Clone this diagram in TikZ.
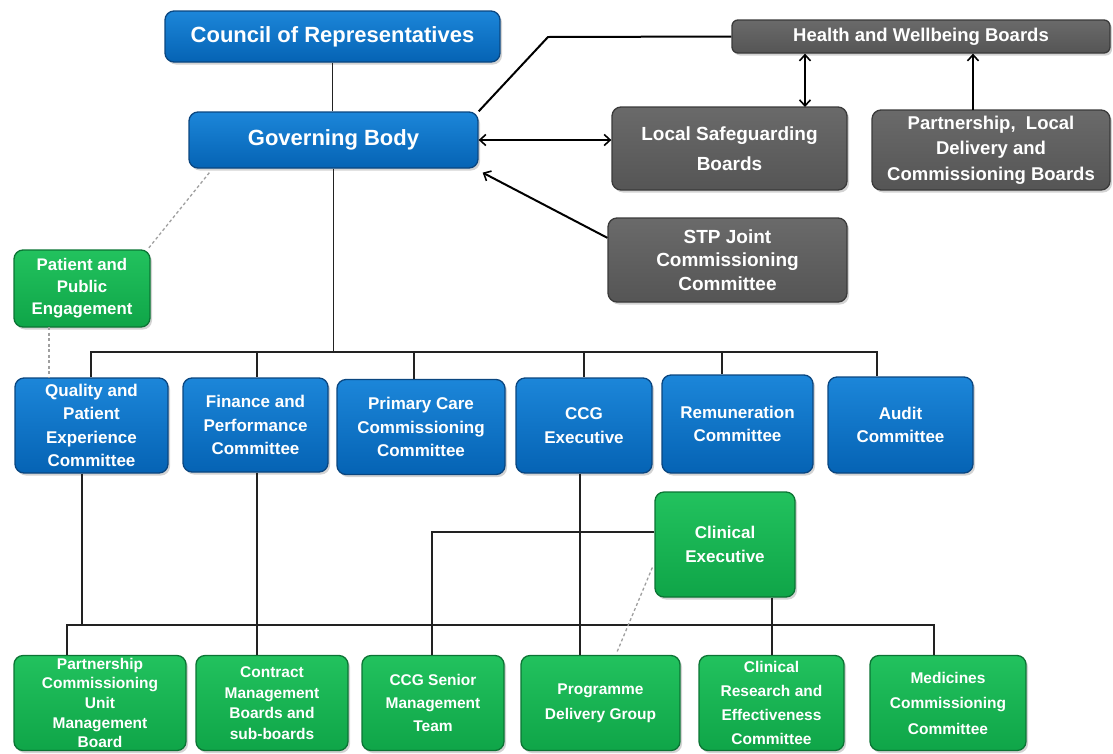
\documentclass[tikz,border=0pt]{standalone}
\usepackage{fontspec}
\setmainfont{Liberation Sans}
\usetikzlibrary{arrows.meta,shadows,calc}
\definecolor{bluetop}{HTML}{1C86D9}
\definecolor{bluebot}{HTML}{0563B4}
\definecolor{blueedge}{HTML}{0A4680}
\definecolor{graytop}{HTML}{6A6A6A}
\definecolor{graybot}{HTML}{555555}
\definecolor{grayedge}{HTML}{3A3A3A}
\definecolor{greentop}{HTML}{22C25E}
\definecolor{greenbot}{HTML}{0FA548}
\definecolor{greenedge}{HTML}{0B7434}
\definecolor{linec}{HTML}{222222}
\newcommand{\fs}[2]{\bfseries\fontsize{#1}{#2}\selectfont}
\tikzset{
  box/.style={rounded corners=9pt, draw, line width=1.3pt, text=white, align=center,
    inner sep=1pt, font=\bfseries,
    drop shadow={opacity=0.35, shadow xshift=2pt, shadow yshift=-2.5pt}},
  bluebox/.style={box, draw=blueedge, top color=bluetop, bottom color=bluebot},
  graybox/.style={box, draw=grayedge, top color=graytop, bottom color=graybot},
  greenbox/.style={box, draw=greenedge, top color=greentop, bottom color=greenbot},
  tree/.style={draw=linec, line width=1.1pt},
  rel/.style={draw=black, line width=2pt},
  arr/.style={rel, -{Straight Barb[length=6pt,width=11pt,line width=1.6pt]}},
  darr/.style={rel, {Straight Barb[length=6pt,width=11pt,line width=1.6pt]}-{Straight Barb[length=6pt,width=11pt,line width=1.6pt]}},
  dots/.style={draw=gray!75, line width=1.3pt, dash pattern=on 3pt off 2.5pt},
  r2/.style={font=\fs{17}{23.5}},
}
\begin{document}
\begin{tikzpicture}[x=1pt,y=1pt]
\useasboundingbox (0,0) rectangle (1113,-753);
% top
\node[bluebox, minimum width=335, minimum height=51, font=\fs{22}{26}] (council) at (332.5,-36.5) {Council of Representatives};
\node[bluebox, minimum width=289, minimum height=56, font=\fs{22}{26}] (gb) at (333.5,-140) {Governing Body};
\node[graybox, rounded corners=6pt, minimum width=378, minimum height=33, font=\fs{18.5}{22}] (hwb) at (921,-36.5) {Health and Wellbeing Boards};
\node[graybox, minimum width=235, minimum height=83, font=\fs{19}{30}] (lsb) at (729.5,-148.5) {Local Safeguarding\\Boards};
\node[graybox, minimum width=238, minimum height=80, font=\fs{18.5}{25.5}] (pld) at (991,-150) {Partnership,\ \ Local\\Delivery and\\Commissioning Boards};
\node[graybox, minimum width=239, minimum height=84, font=\fs{19}{23.5}] (stp) at (727.5,-260) {STP Joint\\Commissioning\\Committee};
\node[greenbox, minimum width=136, minimum height=77, font=\fs{16.8}{22}] (ppe) at (82,-288.5) {Patient and\\Public\\Engagement};
% row 2
\node[bluebox, r2, minimum width=153, minimum height=95] (qpe) at (91.5,-425.5) {Quality and\\Patient\\Experience\\Committee};
\node[bluebox, r2, minimum width=145, minimum height=94] (fpc) at (255.5,-425) {Finance and\\Performance\\Committee};
\node[bluebox, r2, minimum width=168, minimum height=95] (pcc) at (421,-427) {Primary Care\\Commissioning\\Committee};
\node[bluebox, r2, minimum width=136, minimum height=95] (ccg) at (584,-425.5) {CCG\\Executive};
\node[bluebox, r2, minimum width=151, minimum height=98] (rem) at (737.5,-424) {Remuneration\\Committee};
\node[bluebox, r2, minimum width=145, minimum height=96] (aud) at (900.5,-425) {Audit\\Committee};
% clinical exec
\node[greenbox, minimum width=140, minimum height=105, font=\fs{17}{24}] (cex) at (725,-544.5) {Clinical\\Executive};
% row 3
\node[greenbox, minimum width=172, minimum height=95, font=\fs{15.5}{19.6}] (pcu) at (100,-703) {Partnership\\Commissioning\\Unit\\Management\\Board};
\node[greenbox, minimum width=152, minimum height=95, font=\fs{15.5}{20.5}] (cmb) at (272,-703) {Contract\\Management\\Boards and\\sub-boards};
\node[greenbox, minimum width=142, minimum height=95, font=\fs{15.5}{23}] (smt) at (433,-703) {CCG Senior\\Management\\Team};
\node[greenbox, minimum width=159, minimum height=95, font=\fs{15.5}{25}] (pdg) at (600.5,-703) {Programme\\Delivery Group};
\node[greenbox, minimum width=145, minimum height=95, font=\fs{15.5}{24}] (cre) at (771.5,-703) {Clinical\\Research and\\Effectiveness\\Committee};
\node[greenbox, minimum width=156, minimum height=95, font=\fs{15.5}{25.5}] (med) at (948,-703) {Medicines\\Commissioning\\Committee};

% connectors top
\draw[tree] (council.south) -- (council.south |- gb.north);
\coordinate (hwbbend) at (548,-37);
\draw[rel] (hwb.west) -- (hwbbend) -- (gb.north east);
\draw[darr] (gb.east) -- (gb.east -| lsb.west);
\coordinate (lh) at (805,-107);
\draw[darr] (lh) -- (lh |- hwb.south);
\coordinate (ph) at (973,-110);
\draw[arr] (ph) -- (ph |- hwb.south);
\draw[arr] ($(stp.north west)!0.24!(stp.south west)$) -- ([shift={(4,-4)}]gb.south east);
% dotted
\draw[dots] ([shift={(21,-4)}]gb.south west) -- ([shift={(-3,0)}]ppe.north east);
\coordinate (pq) at (49,-327);
\draw[dots] (pq) -- (pq |- qpe.north);
% tree row 2
\coordinate (busL) at (91,-352);
\coordinate (busR) at (877,-352);
\draw[tree] (gb.south) -- (gb.south |- busL);
\draw[tree] (busL |- qpe.north) -- (busL) -- (busR) -- (busR |- aud.north);
\coordinate (d2) at (257,-352);
\coordinate (d3) at (414,-352);
\coordinate (d4) at (584,-352);
\coordinate (d5) at (722,-352);
\draw[tree] (d2) -- (d2 |- fpc.north);
\draw[tree] (d3) -- (d3 |- pcc.north);
\draw[tree] (d4) -- (d4 |- ccg.north);
\draw[tree] (d5) -- (d5 |- rem.north);
% tree row 3
\coordinate (bL) at (67,-625);
\coordinate (bR) at (934,-625);
\draw[tree] (bL |- pcu.north) -- (bL) -- (bR) -- (bR |- med.north);
\coordinate (q1) at (82,-625);
\draw[tree] (q1 |- qpe.south) -- (q1);
\coordinate (f1) at (257,-625);
\draw[tree] (f1 |- fpc.south) -- (f1 |- cmb.north);
\coordinate (c1) at (580,-625);
\draw[tree] (c1 |- ccg.south) -- (c1 |- pdg.north);
\coordinate (s1) at (432,-532);
\draw[tree] (s1 -| cex.west) -- (s1) -- (s1 |- smt.north);
\coordinate (e1) at (772,-625);
\draw[tree] (e1 |- cex.south) -- (e1 |- cre.north);
\coordinate (pd) at (617,-652);
\draw[dots] ([shift={(-2,-23)}]cex.west) -- (pd);
\end{tikzpicture}
\end{document}
